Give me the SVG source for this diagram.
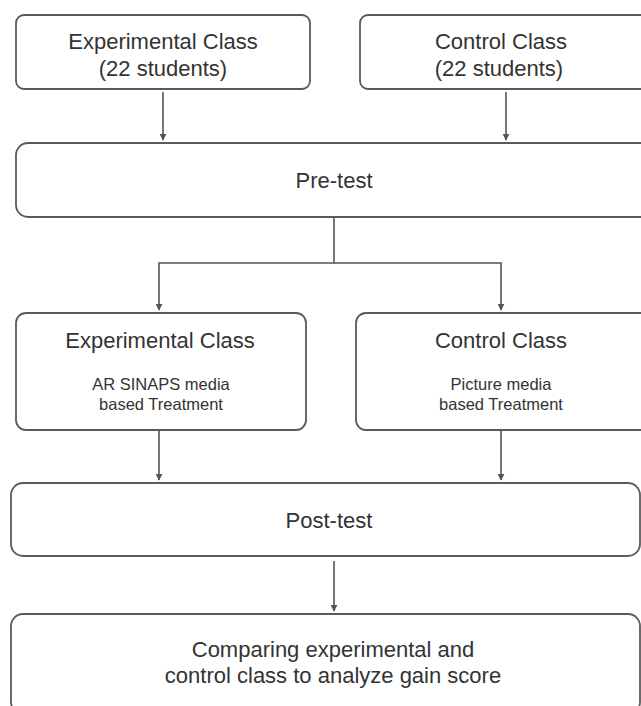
<svg xmlns="http://www.w3.org/2000/svg" width="641" height="706" viewBox="0 0 641 706">
<style>
.box{fill:#ffffff;stroke:#5a5a5a;stroke-width:1.8}
.t{font-family:"Liberation Sans",Arial,sans-serif;fill:#333333;text-anchor:middle}
.big{font-size:22px}
.small{font-size:16.5px}
.c{fill:none;stroke:#555555;stroke-width:1.6}
</style>
<defs>
<marker id="ah" viewBox="0 0 10 10" refX="9" refY="5" markerWidth="7" markerHeight="7" markerUnits="userSpaceOnUse" orient="auto">
<path d="M0,0 L10,5 L0,10 Z" fill="#555555"/>
</marker>
</defs>
<rect width="641" height="706" fill="#ffffff"/>
<g id="connectors">
<line class="c" x1="163" y1="92" x2="163" y2="140" marker-end="url(#ah)"/>
<line class="c" x1="506" y1="92" x2="506" y2="140" marker-end="url(#ah)"/>
<path class="c" d="M334,217 V263 H159 V310" marker-end="url(#ah)"/>
<path class="c" d="M334,263 H501 V310" marker-end="url(#ah)"/>
<line class="c" x1="159" y1="431" x2="159" y2="480" marker-end="url(#ah)"/>
<line class="c" x1="501" y1="431" x2="501" y2="480" marker-end="url(#ah)"/>
<line class="c" x1="334" y1="561" x2="334" y2="611" marker-end="url(#ah)"/>
</g>
<g id="exp-class">
<rect class="box" x="16" y="15" width="294" height="74" rx="8"/>
<text class="t big" x="163" y="49">Experimental Class</text>
<text class="t big" x="163" y="76">(22 students)</text>
</g>
<g id="ctrl-class">
<rect class="box" x="360" y="15" width="300" height="74" rx="8"/>
<text class="t big" x="501" y="49">Control Class</text>
<text class="t big" x="499" y="76">(22 students)</text>
</g>
<g id="pre-test">
<rect class="box" x="16" y="143" width="644" height="74" rx="12"/>
<text class="t big" x="334" y="188">Pre-test</text>
</g>
<g id="exp-treatment">
<rect class="box" x="16" y="313" width="290" height="117" rx="10"/>
<text class="t big" x="160" y="348">Experimental Class</text>
<text class="t small" x="161" y="390">AR SINAPS media</text>
<text class="t small" x="161" y="410">based Treatment</text>
</g>
<g id="ctrl-treatment">
<rect class="box" x="356" y="313" width="304" height="117" rx="10"/>
<text class="t big" x="501" y="348">Control Class</text>
<text class="t small" x="501" y="390">Picture media</text>
<text class="t small" x="501" y="410">based Treatment</text>
</g>
<g id="post-test">
<rect class="box" x="11" y="483" width="629" height="73" rx="12"/>
<text class="t big" x="329" y="528">Post-test</text>
</g>
<g id="compare">
<rect class="box" x="11" y="614" width="629" height="100" rx="12"/>
<text class="t big" x="333" y="657">Comparing experimental and</text>
<text class="t big" x="333" y="683">control class to analyze gain score</text>
</g>
</svg>
